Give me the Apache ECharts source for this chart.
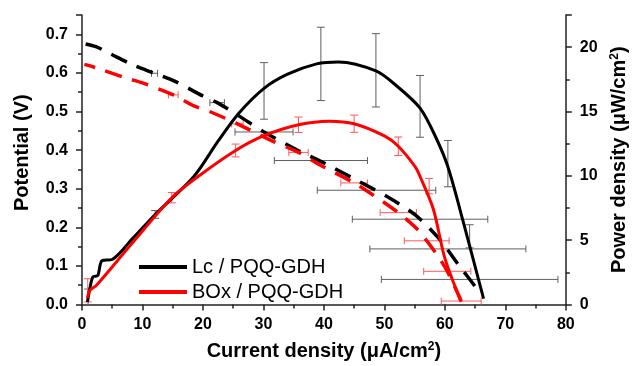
<!DOCTYPE html>
<html><head><meta charset="utf-8">
<script src="https://cdn.jsdelivr.net/npm/echarts/dist/echarts.min.js"></script>
<style>html,body{margin:0;padding:0;background:#fff}#c{width:637px;height:366px}</style>
</head><body><div id="c"></div>
<script>
// Polarization curves (left axis: Potential, V) vs current density (µA/cm²)
const lcPolI = [0.6, 2.3, 4.5, 8.5, 12.0, 15.4, 20.0, 22.35, 26.0, 30.1, 35.5, 40.1, 45.3, 50.5, 55.1, 58.9, 62.4, 65.4, 65.8];
const lcPolV = [0.675, 0.668, 0.651, 0.620, 0.599, 0.578, 0.540, 0.523, 0.488, 0.447, 0.401, 0.366, 0.323, 0.279, 0.232, 0.173, 0.100, 0.038, 0.025];
const boxPolI = [0.4, 2.6, 7.2, 10.0, 15.1, 18.4, 21.1, 25.7, 31.7, 35.8, 39.3, 45.0, 48.0, 52.3, 55.5, 57.0, 59.0, 60.4, 62.7];
const boxPolV = [0.622, 0.612, 0.587, 0.574, 0.543, 0.515, 0.500, 0.468, 0.422, 0.394, 0.362, 0.315, 0.285, 0.238, 0.194, 0.165, 0.122, 0.086, 0.009];

// Power density curves (right axis, µW/cm²)
const lcPowI = [0.9, 1.2, 1.8, 2.6, 3.3, 5.0, 8.5, 12.1, 18.5, 22.5, 26.0, 30.1, 34.0, 38.8, 42.4, 48.6, 52.0, 55.9, 58.5, 60.5, 63.0, 66.4];
const lcPowP = [0.2, 1.0, 2.15, 2.25, 3.4, 3.5, 5.2, 7.0, 9.95, 12.7, 14.9, 16.8, 17.9, 18.7, 18.85, 18.15, 17.0, 15.26, 13.0, 10.7, 6.5, 0.45];
const boxPowI = [0.9, 1.3, 2.4, 8.0, 14.85, 19.2, 25.4, 30.0, 35.8, 40.9, 45.0, 50.0, 52.3, 55.1, 55.9, 58.1, 60.0, 62.7];
const boxPowP = [0.5, 1.1, 1.5, 4.6, 8.3, 9.95, 11.97, 13.1, 13.97, 14.25, 14.05, 13.1, 12.3, 10.7, 9.95, 7.4, 3.6, 0.2];

// Horizontal error bars on polarization points: [current, potential, ±current error]
const lcPolErrI = [12.0, 22.35, 30.1, 39.5, 48.7, 55.9, 60.5, 64.1];
const lcPolErrV = [0.599, 0.523, 0.447, 0.373, 0.296, 0.221, 0.144, 0.065];
const lcPolErr  = [0.5, 1.2, 4.8, 7.7, 9.8, 11.2, 12.9, 14.6];
const boxPolErrI = [15.1, 25.7, 35.8, 45.0, 52.3, 57.0, 60.4, 62.7];
const boxPolErrV = [0.543, 0.468, 0.394, 0.315, 0.238, 0.165, 0.086, 0.009];
const boxPolErr  = [0.8, 0.95, 1.6, 2.2, 3.0, 3.7, 3.9, 3.3];

// Vertical error bars on power points: [current, power, ±power error]
const lcPowErrI = [1.0, 12.1, 30.1, 39.5, 48.6, 55.9, 60.5, 64.1];
const lcPowErrP = [0.6, 7.0, 16.6, 18.7, 18.2, 15.4, 10.95, 5.3];
const lcPowErr  = [0.6, 0.3, 2.2, 2.85, 2.85, 2.4, 1.8, 0.9];
const boxPowErrI = [0.95, 14.85, 25.4, 35.8, 45.0, 52.3, 57.4];
const boxPowErrP = [1.1, 8.3, 11.97, 13.97, 14.05, 12.3, 9.2];
const boxPowErr  = [0.9, 0.4, 0.5, 0.6, 0.67, 0.72, 0.6];

const legendNames = ['Lc / PQQ-GDH', 'BOx / PQQ-GDH'];

const zip2 = (a, b) => a.map((v, i) => [v, b[i]]);
const zip3 = (a, b, c) => a.map((v, i) => [v, b[i], c[i]]);

function hBarRenderer(color) {
  return function (params, api) {
    const x = api.value(0), y = api.value(1), e = api.value(2);
    const p1 = api.coord([x - e, y]), p2 = api.coord([x + e, y]);
    const h = 3.5;
    const style = { stroke: color, lineWidth: 1, fill: null };
    return { type: 'group', children: [
      { type: 'line', shape: { x1: p1[0], y1: p1[1], x2: p2[0], y2: p2[1] }, style },
      { type: 'line', shape: { x1: p1[0], y1: p1[1] - h, x2: p1[0], y2: p1[1] + h }, style },
      { type: 'line', shape: { x1: p2[0], y1: p2[1] - h, x2: p2[0], y2: p2[1] + h }, style }
    ]};
  };
}
function vBarRenderer(color) {
  return function (params, api) {
    const x = api.value(0), y = api.value(1), e = api.value(2);
    const p1 = api.coord([x, y - e]), p2 = api.coord([x, y + e]);
    const w = 4;
    const style = { stroke: color, lineWidth: 1, fill: null };
    return { type: 'group', children: [
      { type: 'line', shape: { x1: p1[0], y1: p1[1], x2: p2[0], y2: p2[1] }, style },
      { type: 'line', shape: { x1: p1[0] - w, y1: p1[1], x2: p1[0] + w, y2: p1[1] }, style },
      { type: 'line', shape: { x1: p2[0] - w, y1: p2[1], x2: p2[0] + w, y2: p2[1] }, style }
    ]};
  };
}

const FONT = 'Liberation Sans, Arial, sans-serif';
const axisCommon = {
  axisLine: { show: true, onZero: false, lineStyle: { color: '#222', width: 1.5 } },
  axisTick: { show: true, inside: false, length: 6, lineStyle: { color: '#222', width: 1.5 } },
  minorTick: { show: true, splitNumber: 2, length: 4, lineStyle: { color: '#222', width: 1.5 } },
  splitLine: { show: false },
  minorSplitLine: { show: false }
};
const nameStyle = {
  fontFamily: FONT, fontSize: 20, fontWeight: 'bold', color: '#000',
  rich: { sup: { fontFamily: FONT, fontSize: 12, fontWeight: 'bold', color: '#000', verticalAlign: 'top', padding: [0, 0, 9, 0] } }
};
const labelStyle = { fontFamily: FONT, fontSize: 16, fontWeight: 'bold', color: '#000' };

const chart = echarts.init(document.getElementById('c'), null, { renderer: 'canvas' });
chart.setOption({
  animation: false,
  backgroundColor: '#fff',
  grid: { left: 82, right: 64, top: 15, bottom: 55, containLabel: false },
  legend: {
    data: legendNames.map(n => ({ name: n, icon: 'rect' })),
    orient: 'vertical', left: 134, top: 252, itemGap: 5,
    itemWidth: 48, itemHeight: 4,
    textStyle: { fontFamily: FONT, fontSize: 20, color: '#000' },
    selectedMode: false
  },
  xAxis: Object.assign({}, axisCommon, {
    type: 'value', min: 0, max: 80, interval: 10,
    name: 'Current density (μA/cm{sup|2})', nameLocation: 'middle', nameGap: 36,
    nameTextStyle: nameStyle,
    axisLabel: Object.assign({ margin: 12 }, labelStyle)
  }),
  yAxis: [
    Object.assign({}, axisCommon, {
      type: 'value', min: 0, max: 0.75, interval: 0.1, position: 'left',
      name: 'Potential (V)', nameLocation: 'middle', nameGap: 50,
      nameTextStyle: Object.assign({}, nameStyle, { padding: [0, 0, 0, 14] }),
      axisLabel: Object.assign({ margin: 14, showMaxLabel: false, formatter: v => v.toFixed(1) }, labelStyle)
    }),
    Object.assign({}, axisCommon, {
      type: 'value', min: 0, max: 22.5, interval: 5, position: 'right',
      name: 'Power density (μW/cm{sup|2})', nameLocation: 'middle', nameGap: 39,
      nameTextStyle: nameStyle,
      axisLabel: Object.assign({ margin: 14, showMaxLabel: false }, labelStyle)
    })
  ],
  series: [
    { type: 'custom', name: 'lcPolErr', z: 1, xAxisIndex: 0, yAxisIndex: 0, renderItem: hBarRenderer('#5f5f5f'),
      encode: { x: 0, y: 1 }, data: zip3(lcPolErrI, lcPolErrV, lcPolErr), silent: true },
    { type: 'custom', name: 'boxPolErr', z: 1, xAxisIndex: 0, yAxisIndex: 0, renderItem: hBarRenderer('#ff5a5a'),
      encode: { x: 0, y: 1 }, data: zip3(boxPolErrI, boxPolErrV, boxPolErr), silent: true },
    { type: 'custom', name: 'lcPowErr', z: 1, xAxisIndex: 0, yAxisIndex: 1, renderItem: vBarRenderer('#5f5f5f'),
      encode: { x: 0, y: 1 }, data: zip3(lcPowErrI, lcPowErrP, lcPowErr), silent: true },
    { type: 'custom', name: 'boxPowErr', z: 1, xAxisIndex: 0, yAxisIndex: 1, renderItem: vBarRenderer('#ff5a5a'),
      encode: { x: 0, y: 1 }, data: zip3(boxPowErrI, boxPowErrP, boxPowErr), silent: true },
    { type: 'line', name: 'Lc polarization', yAxisIndex: 0, smooth: 0.3, showSymbol: false, z: 3,
      itemStyle: { color: '#000' }, lineStyle: { color: '#000', width: 3.5, type: [17, 11] },
      data: zip2(lcPolI, lcPolV) },
    { type: 'line', name: 'BOx polarization', yAxisIndex: 0, smooth: 0.3, showSymbol: false, z: 3,
      itemStyle: { color: '#ff0000' }, lineStyle: { color: '#ff0000', width: 3.5, type: [17, 11], dashOffset: 6 },
      data: zip2(boxPolI, boxPolV) },
    { type: 'line', name: legendNames[0], yAxisIndex: 1, smooth: 0.3, showSymbol: false, z: 4,
      itemStyle: { color: '#000' }, lineStyle: { color: '#000', width: 3 },
      data: zip2(lcPowI, lcPowP) },
    { type: 'line', name: legendNames[1], yAxisIndex: 1, smooth: 0.3, showSymbol: false, z: 4,
      itemStyle: { color: '#ff0000' }, lineStyle: { color: '#ff0000', width: 3 },
      data: zip2(boxPowI, boxPowP) }
  ]
});
</script>
</body></html>
